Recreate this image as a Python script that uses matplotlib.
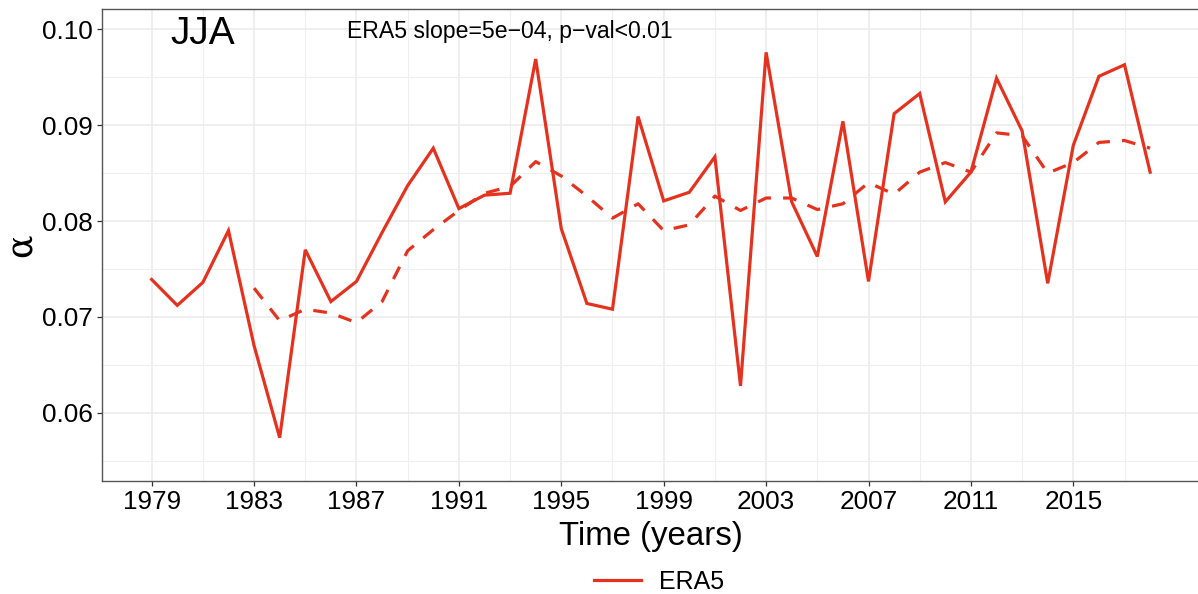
import matplotlib
matplotlib.use("Agg")
import matplotlib.pyplot as plt
from matplotlib.lines import Line2D

# ---- data ----
years = list(range(1979, 2019))
era5_alpha = [0.0739, 0.0712, 0.0736, 0.0790, 0.0670, 0.0574, 0.0770, 0.0716,
              0.0737, 0.0788, 0.0837, 0.0876, 0.0813, 0.0827, 0.0829, 0.0969,
              0.0792, 0.0714, 0.0708, 0.0909, 0.0821, 0.0830, 0.0867, 0.0628,
              0.0976, 0.0820, 0.0763, 0.0904, 0.0737, 0.0912, 0.0933, 0.0820,
              0.0851, 0.0949, 0.0894, 0.0735, 0.0879, 0.0951, 0.0963, 0.0851]
smooth_years = list(range(1983, 2019))
era5_smooth = [0.0730, 0.0696, 0.0708, 0.0704, 0.0694, 0.0716, 0.0769, 0.0791,
               0.0811, 0.0829, 0.0836, 0.0862, 0.0847, 0.0826, 0.0803, 0.0818,
               0.0790, 0.0796, 0.0826, 0.0811, 0.0824, 0.0824, 0.0812, 0.0818,
               0.0840, 0.0828, 0.0851, 0.0861, 0.0851, 0.0892, 0.0889, 0.0850,
               0.0861, 0.0882, 0.0884, 0.0876]
x_major = list(range(1979, 2016, 4))
x_minor = list(range(1981, 2020, 4))
y_major = [0.06, 0.07, 0.08, 0.09, 0.10]
y_minor = [0.055, 0.065, 0.075, 0.085, 0.095]
season = "JJA"
trend_text = "ERA5 slope=5e\u221204, p\u2212val<0.01"
series_name = "ERA5"

RED = "#E5321F"
plt.rcParams['font.family'] = ['Liberation Sans', 'DejaVu Sans']

W, H = 1198, 594
fig = plt.figure(figsize=(W / 100, H / 100), dpi=100)
left, right, top, bottom = 102, 1198, 9, 480.7
ax = fig.add_axes([left / W, 1 - bottom / H, (right - left) / W, (bottom - top) / H])

ax.set_xlim(1977.06, 2019.87)
ax.set_ylim(0.05291, 0.10212)

ax.set_xticks(x_major)
ax.set_xticks(x_minor, minor=True)
ax.set_yticks(y_major)
ax.set_yticks(y_minor, minor=True)
ax.set_yticklabels([f"{v:.2f}" for v in y_major])
ax.set_xticklabels([str(v) for v in x_major])

ax.grid(True, which='major', color='#EBEBEB', lw=1.1, zorder=0)
ax.grid(True, which='minor', color='#EFEFEF', lw=0.8, zorder=0)
ax.set_axisbelow(True)

ax.tick_params(which='major', length=3.6, width=0.9, color='#333333',
               labelsize=18.8, pad=3.0, labelcolor='black')
ax.tick_params(which='minor', length=0)
for s in ['left', 'top', 'bottom']:
    ax.spines[s].set_color('#555555')
    ax.spines[s].set_linewidth(1.0)
ax.spines['right'].set_visible(False)

ax.plot(years, era5_alpha, color=RED, lw=2.3, solid_joinstyle='miter', zorder=3)
ax.plot(smooth_years, era5_smooth, color=RED, lw=2.3,
        linestyle=(0, (4.3, 3.8)), zorder=3)

ax.text(1981, 0.09847, season, fontsize=28, ha='center', va='baseline')
ax.text(1993, 0.09906, trend_text, fontsize=16.6, ha='center', va='baseline')

fig.text(651 / W, 1 - 545 / H, "Time (years)", fontsize=23.8,
         ha='center', va='baseline')
fig.text(21 / W, 1 - 245 / H, "\u03b1", fontsize=25, rotation=90,
         ha='center', va='center', family=['DejaVu Serif'])

handle = Line2D([], [], color=RED, lw=2.3)
fig.legend([handle], [series_name], loc='center',
           bbox_to_anchor=(659 / W, 1 - 582 / H), frameon=False,
           fontsize=18, handlelength=1.85, handletextpad=0.72,
           borderpad=0, borderaxespad=0)

fig.savefig("out.png", dpi=100)
